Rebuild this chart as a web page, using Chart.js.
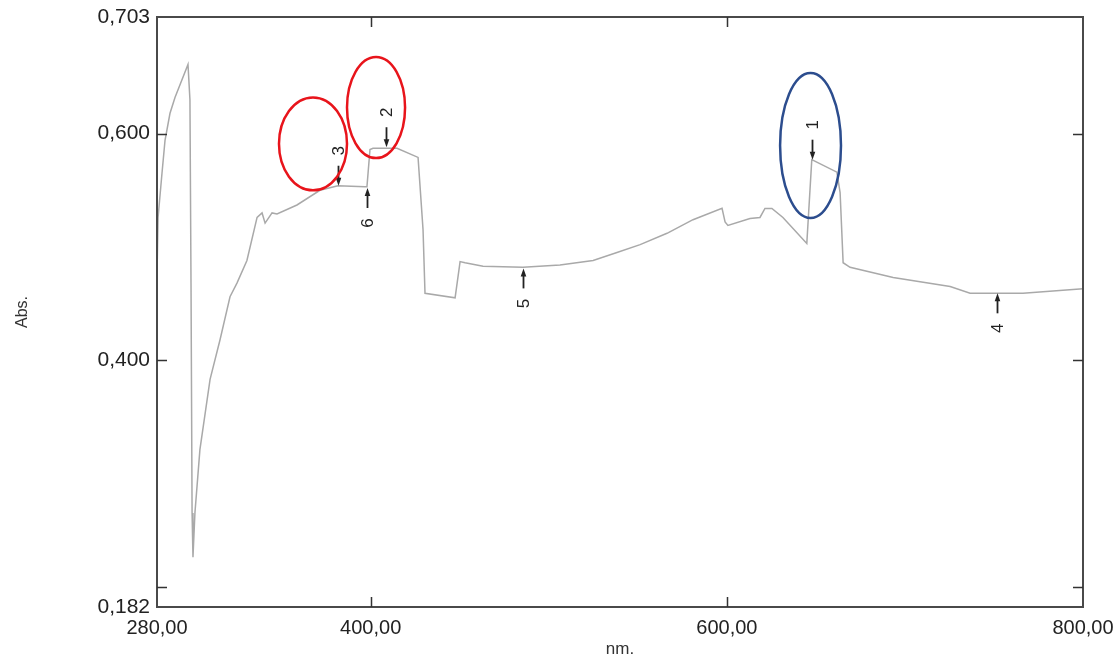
<!DOCTYPE html>
<html>
<head>
<meta charset="utf-8">
<title>Abs. spectrum</title>
<script src="https://cdn.jsdelivr.net/npm/chart.js@4"></script>
<style>
  html, body { margin: 0; padding: 0; background: #fff; }
  #wrap { width: 1116px; height: 663px; }
</style>
</head>
<body>
<div id="wrap"><canvas id="spectrum"></canvas></div>
<script>
// spectrum (nm / Abs.)
const wavelengths = [280.0, 280.6, 282.8, 284.5, 287.3, 290.1, 297.4, 298.5, 299.1, 299.7,
  300.2, 301.3, 304.1, 309.8, 315.4, 321.0, 324.9, 330.5, 336.2, 339.0,
  340.7, 344.6, 347.4, 358.6, 371.5, 381.6, 396.8, 397.9, 399.6, 401.3,
  414.8, 426.6, 429.4, 430.5, 447.4, 450.2, 453.0, 463.1, 485.5, 506.3,
  524.9, 538.3, 551.3, 566.4, 581.0, 597.3, 599.0, 600.6, 613.0, 618.6,
  621.4, 625.3, 631.5, 644.9, 647.7, 661.8, 663.6, 665.3, 669.2, 693.4,
  725.4, 736.6, 766.3, 800.0];
const absorbance = [0.475, 0.526, 0.565, 0.594, 0.618, 0.632, 0.661, 0.630, 0.468, 0.265,
  0.226, 0.265, 0.321, 0.383, 0.418, 0.456, 0.468, 0.488, 0.526, 0.530,
  0.521, 0.530, 0.529, 0.537, 0.550, 0.554, 0.553, 0.553, 0.586, 0.587,
  0.587, 0.579, 0.515, 0.459, 0.455, 0.487, 0.486, 0.483, 0.482, 0.484,
  0.488, 0.495, 0.502, 0.512, 0.524, 0.534, 0.522, 0.519, 0.525, 0.526,
  0.534, 0.534, 0.526, 0.503, 0.577, 0.566, 0.548, 0.486, 0.482, 0.473,
  0.465, 0.459, 0.459, 0.463];

// axis ticks
const xLabelTicks = [280, 400, 600, 800];
const xMarkTicks = [400, 600];
const yLabelTicks = [0.182, 0.4, 0.6, 0.703];
const yMarkTicks = [0.2, 0.4, 0.6];

// peak markers (arrows with numbers)
const peakLabels = ["1", "2", "3", "6", "5", "4"];
const peakNm = [647.7, 408.6, 381.6, 397.9, 485.5, 751.7];
const peakAbs = [0.577, 0.588, 0.554, 0.552, 0.481, 0.459];
const peakFromAbove = [true, true, true, false, false, false];

// highlight rings: centre and half extents in data units
const ringNm = [367.6, 403.0, 647.0];
const ringAbs = [0.591, 0.623, 0.5895];
const ringHalfNm = [19.1, 16.3, 17.1];
const ringHalfAbs = [0.041, 0.0446, 0.064];
const ringColors = ["#e8141b", "#e8141b", "#2c4d8e"];

const FONT = "'Liberation Sans', Arial, sans-serif";

function commaNum(v, digits) {
  return v.toFixed(digits).replace(".", ",");
}

// frame with inward tick marks, arrows, rings
const overlay = {
  id: "overlay",
  afterDatasetsDraw(chart) {
    const ctx = chart.ctx;
    const a = chart.chartArea;
    const xs = chart.scales.x, ys = chart.scales.y;
    ctx.save();

    // frame
    ctx.strokeStyle = "#4a4a4a";
    ctx.lineWidth = 2;
    ctx.strokeRect(a.left, a.top, a.right - a.left, a.bottom - a.top);

    // tick marks pointing inside
    const tl = 10;
    ctx.lineWidth = 1.5;
    ctx.strokeStyle = "#333";
    ctx.beginPath();
    xMarkTicks.forEach(v => {
      const px = Math.round(xs.getPixelForValue(v)) + 0.5;
      ctx.moveTo(px, a.bottom); ctx.lineTo(px, a.bottom - tl);
      ctx.moveTo(px, a.top); ctx.lineTo(px, a.top + tl);
    });
    yMarkTicks.forEach(v => {
      const py = Math.round(ys.getPixelForValue(v)) + 0.5;
      ctx.moveTo(a.left, py); ctx.lineTo(a.left + tl, py);
      ctx.moveTo(a.right, py); ctx.lineTo(a.right - tl, py);
    });
    ctx.stroke();

    // arrows + numbers
    ctx.fillStyle = "#222";
    ctx.strokeStyle = "#222";
    ctx.font = "17px " + FONT;
    ctx.textAlign = "center";
    ctx.textBaseline = "middle";
    peakLabels.forEach((lab, i) => {
      const px = Math.round(xs.getPixelForValue(peakNm[i])) + 0.5;
      const py = ys.getPixelForValue(peakAbs[i]);
      const dir = peakFromAbove[i] ? -1 : 1;
      const tail = py + dir * 20;
      ctx.lineWidth = 1.8;
      ctx.beginPath();
      ctx.moveTo(px, tail);
      ctx.lineTo(px, py + dir * 5);
      ctx.stroke();
      ctx.beginPath();
      ctx.moveTo(px, py);
      ctx.lineTo(px - 2.8, py + dir * 8);
      ctx.lineTo(px + 2.8, py + dir * 8);
      ctx.closePath();
      ctx.fill();
      ctx.save();
      ctx.translate(px, py + dir * 35);
      ctx.rotate(-Math.PI / 2);
      ctx.fillText(lab, 0, 1);
      ctx.restore();
    });

    // rings
    ctx.lineWidth = 2.5;
    ringNm.forEach((c, i) => {
      const cx = xs.getPixelForValue(c);
      const cy = ys.getPixelForValue(ringAbs[i]);
      const rx = Math.abs(xs.getPixelForValue(c + ringHalfNm[i]) - cx);
      const ry = Math.abs(ys.getPixelForValue(ringAbs[i] + ringHalfAbs[i]) - cy);
      ctx.strokeStyle = ringColors[i];
      ctx.beginPath();
      ctx.ellipse(cx, cy, rx, ry, 0, 0, Math.PI * 2);
      ctx.stroke();
    });

    ctx.restore();
  }
};

const points = wavelengths.map((nm, i) => ({ x: nm, y: absorbance[i] }));

new Chart(document.getElementById("spectrum"), {
  type: "scatter",
  data: {
    datasets: [{
      data: points,
      showLine: true,
      borderColor: "#a9a9a9",
      borderWidth: 1.5,
      pointRadius: 0,
      tension: 0
    }]
  },
  options: {
    responsive: true,
    maintainAspectRatio: false,
    animation: false,
    layout: { padding: { top: 17, right: 33, left: 0, bottom: 0 } },
    plugins: { legend: { display: false }, tooltip: { enabled: false } },
    scales: {
      x: {
        type: "linear",
        min: 280,
        max: 800,
        grid: { display: false, drawTicks: false },
        border: { display: false },
        afterBuildTicks: s => { s.ticks = xLabelTicks.map(v => ({ value: v })); },
        afterFit: s => { s.height = 56; s.paddingLeft = 0; s.paddingRight = 0; },
        ticks: {
          autoSkip: false,
          maxRotation: 0,
          padding: 9,
          color: "#222",
          font: { family: FONT, size: 20 },
          callback: v => commaNum(v, 2)
        },
        title: {
          display: true,
          text: "nm.",
          color: "#333",
          font: { family: FONT, size: 17 },
          padding: { top: 0, bottom: 3 }
        }
      },
      y: {
        type: "linear",
        min: 0.182,
        max: 0.703,
        grid: { display: false, drawTicks: false },
        border: { display: false },
        afterBuildTicks: s => { s.ticks = yLabelTicks.map(v => ({ value: v })); },
        afterFit: s => { s.width = 157; s.paddingTop = 0; s.paddingBottom = 0; },
        ticks: {
          autoSkip: false,
          padding: 7,
          color: "#222",
          font: { family: FONT, size: 21 },
          callback: v => commaNum(v, 3)
        },
        title: {
          display: true,
          text: "Abs.",
          color: "#333",
          font: { family: FONT, size: 16 },
          padding: { top: 13, bottom: 0 }
        }
      }
    }
  },
  plugins: [overlay]
});
</script>
</body>
</html>
